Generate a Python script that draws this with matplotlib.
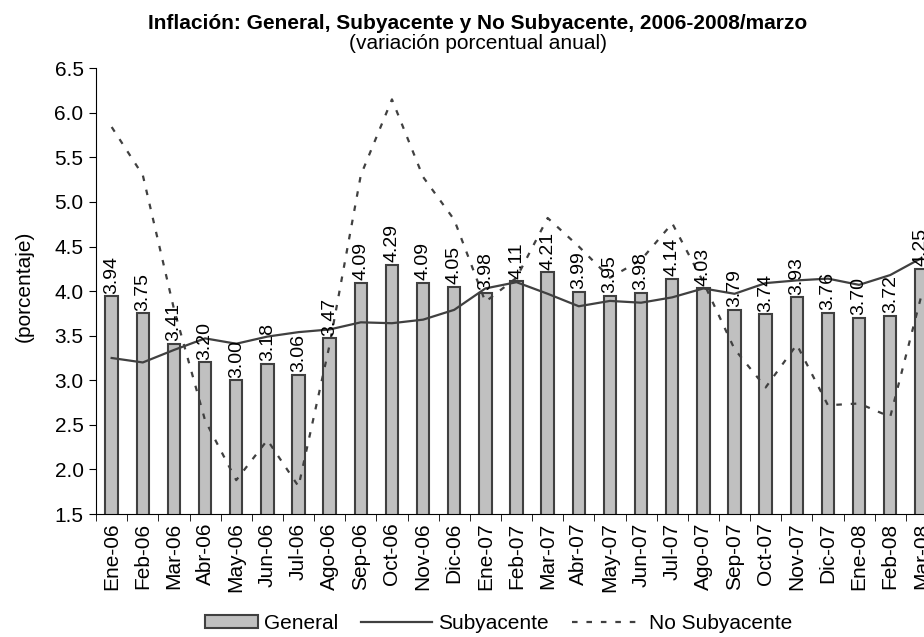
import matplotlib
matplotlib.use("Agg")
import matplotlib.pyplot as plt
import matplotlib.patches as mpatches
from matplotlib.container import BarContainer
from matplotlib.legend_handler import HandlerPatch, update_from_first_child
import numpy as np

plt.rcParams["font.family"] = ["Liberation Sans", "DejaVu Sans"]

meses = ["Ene-06", "Feb-06", "Mar-06", "Abr-06", "May-06", "Jun-06", "Jul-06",
         "Ago-06", "Sep-06", "Oct-06", "Nov-06", "Dic-06", "Ene-07", "Feb-07",
         "Mar-07", "Abr-07", "May-07", "Jun-07", "Jul-07", "Ago-07", "Sep-07",
         "Oct-07", "Nov-07", "Dic-07", "Ene-08", "Feb-08", "Mar-08"]
general = [3.94, 3.75, 3.41, 3.20, 3.00, 3.18, 3.06, 3.47, 4.09, 4.29, 4.09, 4.05,
           3.98, 4.11, 4.21, 3.99, 3.95, 3.98, 4.14, 4.03, 3.79, 3.74, 3.93, 3.76,
           3.70, 3.72, 4.25]
subyacente = [3.25, 3.20, 3.34, 3.47, 3.41, 3.49, 3.54, 3.57, 3.65, 3.64, 3.68, 3.79,
              4.03, 4.10, 3.97, 3.83, 3.89, 3.87, 3.93, 4.03, 3.97, 4.09, 4.12, 4.14,
              4.07, 4.18, 4.37]
no_subyacente = [5.84, 5.30, 3.80, 2.55, 1.88, 2.33, 1.81, 3.40, 5.30, 6.15, 5.28, 4.80,
                 3.88, 4.15, 4.82, 4.50, 4.15, 4.35, 4.76, 4.10, 3.35, 2.92, 3.40, 2.72,
                 2.74, 2.59, 3.95]

dark = "#404040"
fs = 15


def short_patch(legend, orig_handle, xdescent, ydescent, width, height, fontsize):
    # legend box for the bars is a bit shorter than the line handles
    w = width * 0.75
    return mpatches.Rectangle((-xdescent + width - w, -ydescent), w, height)


fig = plt.figure(figsize=(9.24, 6.37), dpi=100)
ax = fig.add_axes([0.104, 0.193, 0.910, 0.700])

x = np.arange(len(meses))
h_bar = ax.bar(x, general, width=0.4, color="#C0C0C0", edgecolor=dark,
               linewidth=1.5, label="General", zorder=2)
h_sub, = ax.plot(x, subyacente, color=dark, linewidth=1.6, label="Subyacente", zorder=3)
h_nos, = ax.plot(x, no_subyacente, color=dark, linewidth=1.6, linestyle=(0, (2.5, 4.0)),
                 label="No Subyacente", zorder=3)

for xi, v in zip(x, general):
    ax.annotate(f"{v:.2f}", (xi, v), xytext=(0, 2), textcoords="offset points",
                rotation=90, ha="center", va="bottom", fontsize=14, zorder=4)

yt = np.arange(1.5, 6.51, 0.5)
ax.set_ylim(1.5, 6.5)
ax.set_yticks(yt)
ax.set_yticklabels([f"{t:.1f}" for t in yt], fontsize=fs)
ax.set_xlim(-0.5, len(meses) - 0.5)
ax.set_xticks(x)
ax.set_xticklabels(meses, rotation=90, fontsize=fs)
ax.set_xticks(np.arange(-0.5, len(meses), 1), minor=True)
ax.tick_params(axis="x", which="major", length=0, pad=6)
ax.tick_params(axis="x", which="minor", length=5, direction="out", color="black")
ax.tick_params(axis="y", length=5, direction="out", pad=4)
ax.spines["top"].set_visible(False)
ax.spines["right"].set_visible(False)
ax.set_ylabel("(porcentaje)", fontsize=fs)
ax.yaxis.set_label_coords(-0.074, 0.51)

fig.text(0.517, 0.963, "Inflación: General, Subyacente y No Subyacente, 2006-2008/marzo",
         ha="center", va="center", fontsize=fs, fontweight="bold")
fig.text(0.517, 0.932, "(variación porcentual anual)", ha="center", va="center",
         fontsize=fs)

fig.legend([h_bar, h_sub, h_nos], ["General", "Subyacente", "No Subyacente"],
           loc="center", bbox_to_anchor=(0.530, 0.021), ncol=3, frameon=False,
           fontsize=fs, handlelength=3.4, handleheight=0.6, columnspacing=1.1,
           handletextpad=0.3, borderaxespad=0,
           handler_map={BarContainer: HandlerPatch(patch_func=short_patch,
                                                   update_func=update_from_first_child)})

fig.savefig("out.png", dpi=100)
